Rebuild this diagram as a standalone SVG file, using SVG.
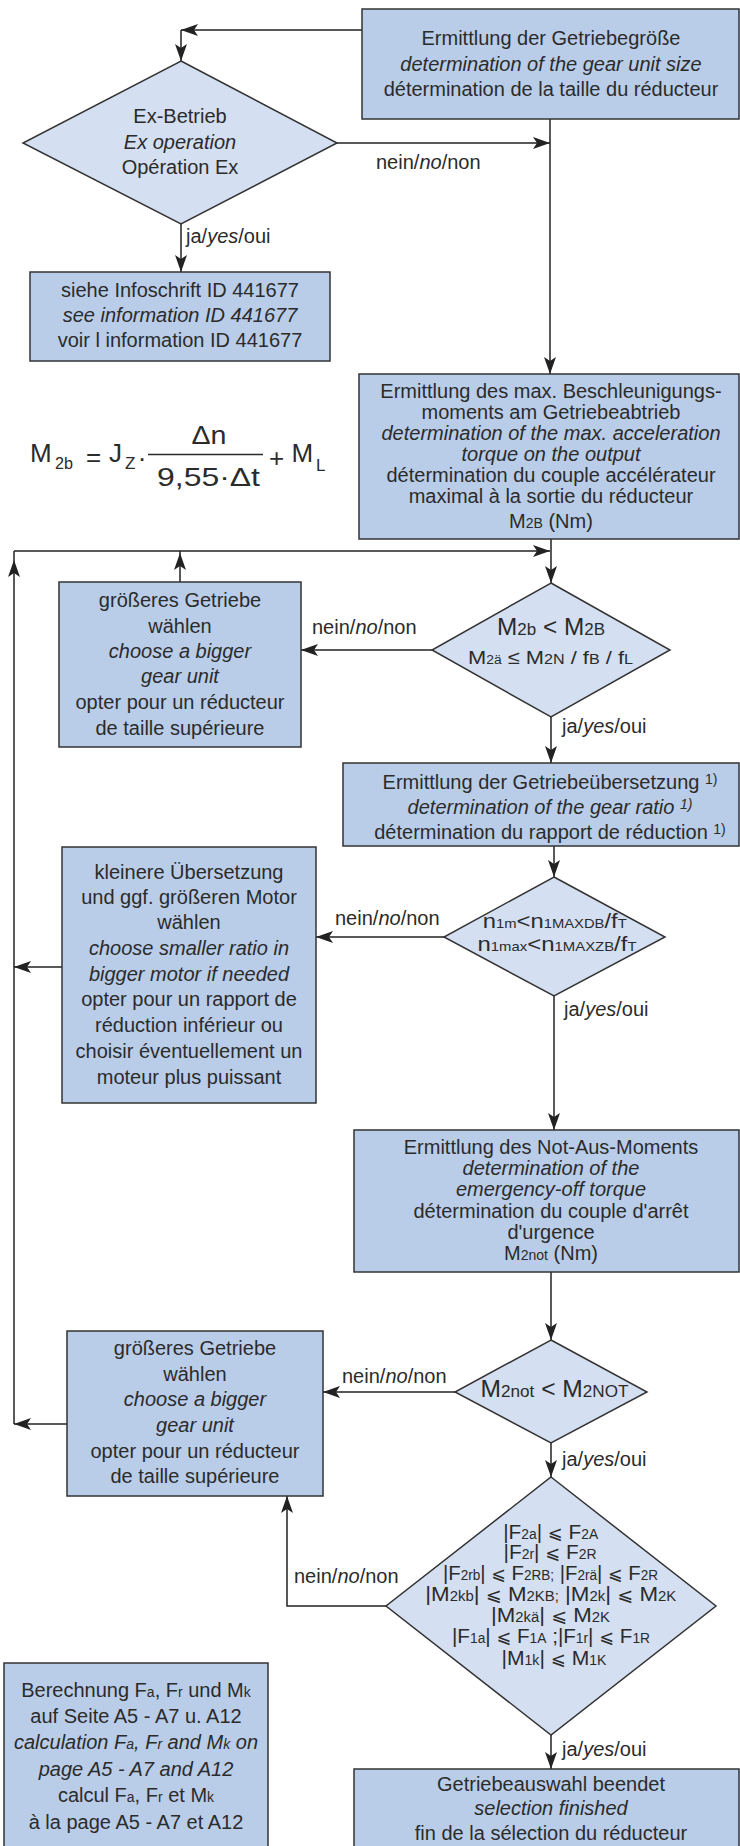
<svg xmlns="http://www.w3.org/2000/svg" width="740" height="1846" viewBox="0 0 740 1846">
<style>
text{font-family:"Liberation Sans",Arial,"DejaVu Sans",sans-serif;font-size:20px;fill:#2b2b2b}
.c{text-anchor:middle}
.i{font-style:italic}
.s{font-size:14px}
.t{font-size:13px}
.box{fill:#b9cde9;stroke:#333;stroke-width:1.5}
.dia{fill:#d4dff1;stroke:#333;stroke-width:1.5}
.ln{fill:none;stroke:#222;stroke-width:1.5}
.ah{fill:#222}
.f{font-size:26px}
.fs{font-size:17px}
.le{font-family:"DejaVu Sans","Liberation Sans",sans-serif;font-size:18px}
</style>
<defs>
<marker id="arr" markerUnits="userSpaceOnUse" markerWidth="20" markerHeight="14" refX="17" refY="6" orient="auto">
<path d="M0,0 L17,6 L0,12 L4,6 Z" fill="#222"/>
</marker>
</defs>

<g id="connectors">
<path class="ln" d="M362,30 H181" marker-end="url(#arr)"/>
<path class="ln" d="M181,30 V61" marker-end="url(#arr)"/>
<path class="ln" d="M337,143 H550" marker-end="url(#arr)"/>
<path class="ln" d="M550,119 V374" marker-end="url(#arr)"/>
<path class="ln" d="M181,224 V272" marker-end="url(#arr)"/>
<path class="ln" d="M551,539 V583" marker-end="url(#arr)"/>
<path class="ln" d="M14,551 H550" marker-end="url(#arr)"/>
<path class="ln" d="M14,1424 V551"/>
<path class="ah" d="M14,560 L20,577 L14,573 L8,577 Z"/>
<path class="ln" d="M180,582 V551"/>
<path class="ah" d="M180,553 L186,570 L180,566 L174,570 Z"/>
<path class="ln" d="M432,650 H301" marker-end="url(#arr)"/>
<path class="ln" d="M551,717 V763" marker-end="url(#arr)"/>
<path class="ln" d="M554,846 V877" marker-end="url(#arr)"/>
<path class="ln" d="M444,937 H316" marker-end="url(#arr)"/>
<path class="ln" d="M62,967 H14" marker-end="url(#arr)"/>
<path class="ln" d="M554,996 V1130" marker-end="url(#arr)"/>
<path class="ln" d="M551,1272 V1340" marker-end="url(#arr)"/>
<path class="ln" d="M455,1392 H323" marker-end="url(#arr)"/>
<path class="ln" d="M67,1424 H14" marker-end="url(#arr)"/>
<path class="ln" d="M551,1443 V1477" marker-end="url(#arr)"/>
<path class="ln" d="M386,1606 H287 V1496" marker-end="url(#arr)"/>
<path class="ln" d="M551,1735 V1769" marker-end="url(#arr)"/>
<text x="376" y="169">nein/<tspan class="i">no</tspan>/non</text>
<text x="186" y="243">ja/<tspan class="i">yes</tspan>/oui</text>
<text x="312" y="634">nein/<tspan class="i">no</tspan>/non</text>
<text x="562" y="733">ja/<tspan class="i">yes</tspan>/oui</text>
<text x="335" y="925">nein/<tspan class="i">no</tspan>/non</text>
<text x="564" y="1016">ja/<tspan class="i">yes</tspan>/oui</text>
<text x="342" y="1383">nein/<tspan class="i">no</tspan>/non</text>
<text x="562" y="1466">ja/<tspan class="i">yes</tspan>/oui</text>
<text x="294" y="1583">nein/<tspan class="i">no</tspan>/non</text>
<text x="562" y="1756">ja/<tspan class="i">yes</tspan>/oui</text>
</g>

<g id="n_size">
<rect class="box" x="362" y="9" width="377" height="110"/>
<text class="c" x="551" y="45">Ermittlung der Getriebegröße</text>
<text class="c i" x="551" y="71">determination of the gear unit size</text>
<text class="c" x="551" y="96">détermination de la taille du réducteur</text>
</g>

<g id="n_ex">
<polygon class="dia" points="181,61 337,143 181,224 23,143"/>
<text class="c" x="180" y="123">Ex-Betrieb</text>
<text class="c i" x="180" y="149">Ex operation</text>
<text class="c" x="180" y="174">Opération Ex</text>
</g>

<g id="n_info">
<rect class="box" x="30" y="272" width="300" height="89"/>
<text class="c" x="180" y="297">siehe Infoschrift ID 441677</text>
<text class="c i" x="180" y="322">see information ID 441677</text>
<text class="c" x="180" y="347">voir l information ID 441677</text>
</g>

<g id="formula">
<text class="f" x="30" y="462">M</text>
<text class="fs" x="55" y="469" textLength="18" lengthAdjust="spacingAndGlyphs">2b</text>
<text class="f c" x="93.5" y="466">=</text>
<text class="f" x="109" y="462">J</text>
<text class="fs" x="125" y="469">Z</text>
<text class="f c" x="142" y="467">·</text>
<line x1="148" y1="454.5" x2="263" y2="454.5" stroke="#2b2b2b" stroke-width="1.5"/>
<text class="c" x="209" y="444" style="font-size:25px" textLength="35" lengthAdjust="spacingAndGlyphs">Δn</text>
<text class="c" x="208.5" y="486" style="font-size:25px" textLength="103" lengthAdjust="spacingAndGlyphs">9,55·Δt</text>
<text class="f c" x="276.5" y="467">+</text>
<text class="f" x="291.5" y="462">M</text>
<text class="fs" x="316" y="471">L</text>
</g>

<g id="n_accel">
<rect class="box" x="359" y="374" width="380" height="165"/>
<text class="c" x="551" y="398">Ermittlung des max. Beschleunigungs-</text>
<text class="c" x="551" y="419">moments am Getriebeabtrieb</text>
<text class="c i" x="551" y="440">determination of the max. acceleration</text>
<text class="c i" x="551" y="461">torque on the output</text>
<text class="c" x="551" y="482">détermination du couple accélérateur</text>
<text class="c" x="551" y="503">maximal à la sortie du réducteur</text>
<text class="c" x="551" y="528">M<tspan class="s">2B</tspan> (Nm)</text>
</g>

<g id="n_d2">
<polygon class="dia" points="551,583 670,650 551,717 432,650"/>
<text class="c" x="551" y="635" style="font-size:23px" textLength="108" lengthAdjust="spacingAndGlyphs">M<tspan style="font-size:16px">2b</tspan> &lt; M<tspan style="font-size:16px">2B</tspan></text>
<text class="c" x="550.5" y="664" style="font-size:19px" textLength="165" lengthAdjust="spacingAndGlyphs">M<tspan style="font-size:12px">2ä</tspan> ≤ M<tspan style="font-size:14px">2N</tspan> / f<tspan style="font-size:14px">B</tspan> / f<tspan style="font-size:14px">L</tspan></text>
</g>

<g id="n_bigger1">
<rect class="box" x="59" y="582" width="242" height="165"/>
<text class="c" x="180" y="607">größeres Getriebe</text>
<text class="c" x="180" y="633">wählen</text>
<text class="c i" x="180" y="658">choose a bigger</text>
<text class="c i" x="180" y="683">gear unit</text>
<text class="c" x="180" y="709">opter pour un réducteur</text>
<text class="c" x="180" y="735">de taille supérieure</text>
</g>

<g id="n_ratio">
<rect class="box" x="343" y="763" width="396" height="83"/>
<text class="c" x="550" y="789">Ermittlung der Getriebeübersetzung <tspan class="s" dy="-5">1)</tspan></text>
<text class="c i" x="550" y="814">determination of the gear ratio <tspan class="s" dy="-5">1)</tspan></text>
<text class="c" x="550" y="839">détermination du rapport de réduction <tspan class="s" dy="-5">1)</tspan></text>
</g>

<g id="n_d3">
<polygon class="dia" points="554,877 665,937 554,996 444,937"/>
<text class="c" x="554.7" y="928" style="font-size:21px" textLength="144" lengthAdjust="spacingAndGlyphs">n<tspan class="t">1m</tspan>&lt;n<tspan class="t">1MAXDB</tspan>/f<tspan class="t">T</tspan></text>
<text class="c" x="557" y="951" style="font-size:21px" textLength="159" lengthAdjust="spacingAndGlyphs">n<tspan class="t">1max</tspan>&lt;n<tspan class="t">1MAXZB</tspan>/f<tspan class="t">T</tspan></text>
</g>

<g id="n_smaller">
<rect class="box" x="62" y="847" width="254" height="256"/>
<text class="c" x="189" y="879">kleinere Übersetzung</text>
<text class="c" x="189" y="904">und ggf. größeren Motor</text>
<text class="c" x="189" y="929">wählen</text>
<text class="c i" x="189" y="955">choose smaller ratio in</text>
<text class="c i" x="189" y="981">bigger motor if needed</text>
<text class="c" x="189" y="1006">opter pour un rapport de</text>
<text class="c" x="189" y="1032">réduction inférieur ou</text>
<text class="c" x="189" y="1058">choisir éventuellement un</text>
<text class="c" x="189" y="1084">moteur plus puissant</text>
</g>

<g id="n_emergency">
<rect class="box" x="354" y="1130" width="385" height="142"/>
<text class="c" x="551" y="1154">Ermittlung des Not-Aus-Moments</text>
<text class="c i" x="551" y="1175">determination of the</text>
<text class="c i" x="551" y="1196">emergency-off torque</text>
<text class="c" x="551" y="1218">détermination du couple d'arrêt</text>
<text class="c" x="551" y="1239">d'urgence</text>
<text class="c" x="551" y="1260">M<tspan class="s">2not</tspan> (Nm)</text>
</g>

<g id="n_d4">
<polygon class="dia" points="551,1340 647,1392 551,1443 455,1392"/>
<text class="c" x="554.5" y="1397" style="font-size:23px" textLength="148" lengthAdjust="spacingAndGlyphs">M<tspan style="font-size:16px">2not</tspan> &lt; M<tspan style="font-size:16px">2NOT</tspan></text>
</g>

<g id="n_bigger2">
<rect class="box" x="67" y="1331" width="256" height="165"/>
<text class="c" x="195" y="1355">größeres Getriebe</text>
<text class="c" x="195" y="1381">wählen</text>
<text class="c i" x="195" y="1406">choose a bigger</text>
<text class="c i" x="195" y="1432">gear unit</text>
<text class="c" x="195" y="1458">opter pour un réducteur</text>
<text class="c" x="195" y="1483">de taille supérieure</text>
</g>

<g id="n_d5">
<polygon class="dia" points="551,1477 716,1606 551,1735 386,1606"/>
<text class="c" x="550.7" y="1539" style="font-size:21px" textLength="95" lengthAdjust="spacingAndGlyphs">|F<tspan class="s">2a</tspan>| <tspan class="le">⩽</tspan> F<tspan class="s">2A</tspan></text>
<text class="c" x="550" y="1559" style="font-size:21px" textLength="93" lengthAdjust="spacingAndGlyphs">|F<tspan class="s">2r</tspan>| <tspan class="le">⩽</tspan> F<tspan class="s">2R</tspan></text>
<text class="c" x="550.5" y="1580" style="font-size:21px" textLength="215" lengthAdjust="spacingAndGlyphs">|F<tspan class="s">2rb</tspan>| <tspan class="le">⩽</tspan> F<tspan class="s">2RB;</tspan> |F<tspan class="s">2rä</tspan>| <tspan class="le">⩽</tspan> F<tspan class="s">2R</tspan></text>
<text class="c" x="550.8" y="1601" style="font-size:21px" textLength="251" lengthAdjust="spacingAndGlyphs">|M<tspan class="s">2kb</tspan>| <tspan class="le">⩽</tspan> M<tspan class="s">2KB;</tspan> |M<tspan class="s">2k</tspan>| <tspan class="le">⩽</tspan> M<tspan class="s">2K</tspan></text>
<text class="c" x="550.5" y="1622" style="font-size:21px" textLength="119" lengthAdjust="spacingAndGlyphs">|M<tspan class="s">2kä</tspan>| <tspan class="le">⩽</tspan> M<tspan class="s">2K</tspan></text>
<text class="c" x="551" y="1643" style="font-size:21px" textLength="198" lengthAdjust="spacingAndGlyphs">|F<tspan class="s">1a</tspan>| <tspan class="le">⩽</tspan> F<tspan class="s">1A</tspan> ;|F<tspan class="s">1r</tspan>| <tspan class="le">⩽</tspan> F<tspan class="s">1R</tspan></text>
<text class="c" x="554" y="1665" style="font-size:21px" textLength="105" lengthAdjust="spacingAndGlyphs">|M<tspan class="s">1k</tspan>| <tspan class="le">⩽</tspan> M<tspan class="s">1K</tspan></text>
</g>

<g id="n_calc">
<rect class="box" x="4" y="1663" width="264" height="190"/>
<text class="c" x="136" y="1697">Berechnung F<tspan class="s">a</tspan>, F<tspan class="s">r</tspan> und M<tspan class="s">k</tspan></text>
<text class="c" x="136" y="1723">auf Seite A5 - A7 u. A12</text>
<text class="c i" x="136" y="1749">calculation F<tspan class="s">a</tspan>, F<tspan class="s">r</tspan> and M<tspan class="s">k</tspan> on</text>
<text class="c i" x="136" y="1776">page A5 - A7 and A12</text>
<text class="c" x="136" y="1802">calcul F<tspan class="s">a</tspan>, F<tspan class="s">r</tspan> et M<tspan class="s">k</tspan></text>
<text class="c" x="136" y="1829">à la page A5 - A7 et A12</text>
</g>

<g id="n_finish">
<rect class="box" x="354" y="1769" width="385" height="90"/>
<text class="c" x="551" y="1791">Getriebeauswahl beendet</text>
<text class="c i" x="551" y="1815">selection finished</text>
<text class="c" x="551" y="1840">fin de la sélection du réducteur</text>
</g>
</svg>
